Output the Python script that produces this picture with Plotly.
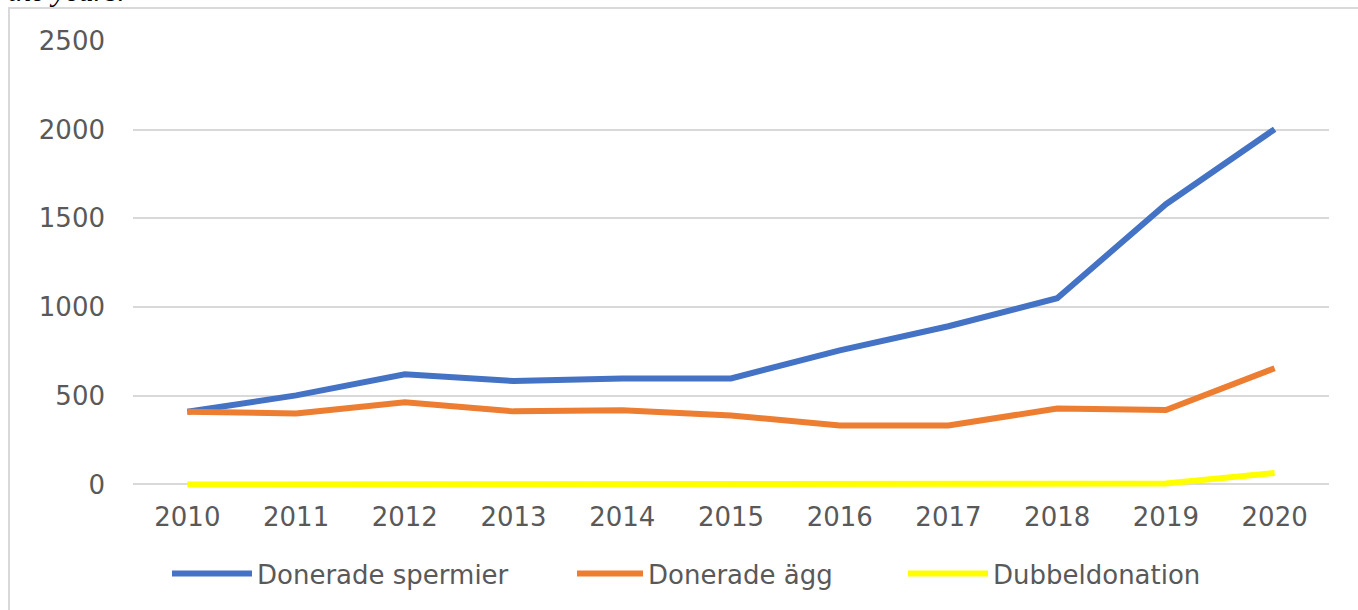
import plotly.graph_objects as go

years = ["2010", "2011", "2012", "2013", "2014", "2015", "2016", "2017", "2018", "2019", "2020"]
spermier = [410, 502, 621, 583, 598, 598, 756, 892, 1050, 1580, 2003]
agg = [410, 400, 463, 412, 418, 389, 333, 333, 428, 420, 655]
dubbel = [0, 0, 0, 0, 0, 0, 0, 0, 0, 5, 64]
names = ["Donerade spermier", "Donerade ägg", "Dubbeldonation"]
colors = ["#4472C4", "#ED7D31", "#FFFF00"]
yticks = [0, 500, 1000, 1500, 2000, 2500]

FONT = "DejaVu Sans"
GRAY = "#595959"
FS = 26

W, H = 1358, 610
YMIN, YMAX = -20, 2500
# plot area in page pixels (body margin removed via post_script)
PX0, PX1 = 133, 1329
Y_TOP, Y_ZERO = 41, 484          # pixel of 2500 and of 0
ppu = (Y_ZERO - Y_TOP) / YMAX
PY0 = Y_TOP
PY1 = Y_ZERO + (-YMIN) * ppu
L = PX0
R = W - PX1
T = PY0
B = H - PY1
pw = PX1 - PX0
ph = PY1 - PY0

def px_x(p):
    return (p - PX0) / pw

def px_y(p):
    return (PY1 - p) / ph

fig = go.Figure()
legend_keys = ["legend", "legend2", "legend3"]
for name, vals, col, lk in zip(names, [spermier, agg, dubbel], colors, legend_keys):
    fig.add_trace(go.Scatter(x=years, y=vals, name=name, mode="lines",
                             line=dict(color=col, width=6), cliponaxis=False,
                             legend=lk))

leg_x = [167, 572, 903]
leg_w = [80, 66, 80]
legends = {}
for lk, lx, lw in zip(legend_keys, leg_x, leg_w):
    legends[lk] = dict(orientation="h", x=px_x(lx), xanchor="left", y=px_y(573),
                       yanchor="middle", font=dict(size=FS, color=GRAY, family=FONT),
                       itemwidth=lw, bgcolor="rgba(0,0,0,0)")

fig.update_layout(
    width=W, height=H,
    margin=dict(l=L, r=R, t=T, b=B),
    paper_bgcolor="white", plot_bgcolor="white",
    font=dict(family=FONT, size=FS, color=GRAY),
    xaxis=dict(type="category", range=[-0.5, 10.5], showgrid=False, zeroline=False,
               showline=False, ticks="", tickfont=dict(size=FS, color=GRAY),
               ticklabelstandoff=11),
    yaxis=dict(range=[YMIN, YMAX], tickvals=yticks, showgrid=True, gridcolor="#D9D9D9",
               gridwidth=2, zeroline=False, showline=False, ticks="",
               tickfont=dict(size=FS, color=GRAY), ticklabelstandoff=27),
    showlegend=True,
    **legends,
)

fig.add_shape(type="rect", xref="paper", yref="paper",
              x0=px_x(9), x1=px_x(1420), y0=px_y(700), y1=px_y(8),
              line=dict(color="#D9D9D9", width=2), fillcolor="rgba(0,0,0,0)", layer="below")

fig.add_annotation(text="<i>the years.</i>", xref="paper", yref="paper",
                   x=px_x(6), y=px_y(9), xanchor="left", yanchor="bottom",
                   showarrow=False, font=dict(family="Liberation Serif", size=30, color="black"))

fig.write_html("out.html", config={"displayModeBar": False},
               post_script="document.body.style.margin='0';")
